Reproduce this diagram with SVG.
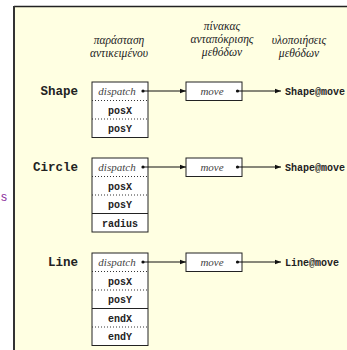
<svg xmlns="http://www.w3.org/2000/svg" width="347" height="350" viewBox="0 0 347 350">
<defs>
<marker id="ah" viewBox="0 0 6 6" refX="6" refY="3" markerWidth="6" markerHeight="6" markerUnits="userSpaceOnUse" orient="auto">
<path d="M0,0.8 L6,3 L0,5.2 Z" fill="#111"/>
</marker>
</defs>
<style>
.head{font-family:"Liberation Serif","DejaVu Serif",serif;font-style:italic;font-size:11.5px;fill:#222;text-anchor:middle}
.lbl{font-family:"Liberation Mono",monospace;font-weight:bold;font-size:12.5px;fill:#222;text-anchor:end}
.fld{font-family:"Liberation Mono",monospace;font-weight:bold;font-size:10px;fill:#222;text-anchor:middle}
.impl{font-family:"Liberation Mono",monospace;font-weight:bold;font-size:10px;fill:#222}
.it{font-family:"Liberation Serif",serif;font-style:italic;font-size:11px;fill:#444;text-anchor:middle}
.box{fill:#fff;stroke:#222;stroke-width:1}
.dot{stroke:#333;stroke-width:1;stroke-dasharray:1,2}
.sol{stroke:#222;stroke-width:1}
.con{stroke:#111;stroke-width:1;fill:none;marker-end:url(#ah)}
.pt{fill:#111}
</style>
<rect x="0" y="0" width="347" height="350" fill="#fff"/>
<rect x="14" y="6.5" width="340" height="350" fill="#FFFFE2"/>
<line x1="14" y1="6.5" x2="347" y2="6.5" stroke="#222" stroke-width="1.5"/>
<line x1="14" y1="6" x2="14" y2="350" stroke="#333" stroke-width="2"/>
<text x="1" y="201" font-family="Liberation Sans,sans-serif" font-size="12" fill="#8a2a9a">s</text>

<g id="headings">
<text class="head" x="119" y="44">παράσταση</text>
<text class="head" x="119" y="57">αντικειμένου</text>
<text class="head" x="222" y="30">πίνακας</text>
<text class="head" x="222" y="43">ανταπόκρισης</text>
<text class="head" x="222" y="56">μεθόδων</text>
<text class="head" x="299" y="44">υλοποιήσεις</text>
<text class="head" x="299" y="57">μεθόδων</text>
</g>

<g id="shape">
<text class="lbl" x="78" y="95">Shape</text>
<rect class="box" x="92" y="82" width="56" height="55.5"/>
<line class="dot" x1="92" y1="100.5" x2="148" y2="100.5"/>
<line class="dot" x1="92" y1="119" x2="148" y2="119"/>
<text class="it" x="117" y="95">dispatch</text>
<text class="fld" x="120" y="114">posX</text>
<text class="fld" x="120" y="132">posY</text>
</g>
<g id="shape-vt">
<rect class="box" x="186" y="82" width="56" height="18.5"/>
<text class="it" x="212" y="95">move</text>
</g>
<g id="shape-impl"><text class="impl" x="285" y="94.5">Shape@move</text></g>

<g id="circle">
<text class="lbl" x="78" y="171">Circle</text>
<rect class="box" x="92" y="158" width="56" height="74"/>
<line class="dot" x1="92" y1="176.5" x2="148" y2="176.5"/>
<line class="dot" x1="92" y1="195" x2="148" y2="195"/>
<line class="sol" x1="92" y1="213.5" x2="148" y2="213.5"/>
<text class="it" x="117" y="171">dispatch</text>
<text class="fld" x="120" y="190">posX</text>
<text class="fld" x="120" y="208">posY</text>
<text class="fld" x="120" y="226.5">radius</text>
</g>
<g id="circle-vt">
<rect class="box" x="186" y="158" width="56" height="18.5"/>
<text class="it" x="212" y="171">move</text>
</g>
<g id="circle-impl"><text class="impl" x="285" y="170.5">Shape@move</text></g>

<g id="line">
<text class="lbl" x="78" y="266">Line</text>
<rect class="box" x="92" y="253" width="56" height="92.5"/>
<line class="dot" x1="92" y1="271.5" x2="148" y2="271.5"/>
<line class="dot" x1="92" y1="290" x2="148" y2="290"/>
<line class="sol" x1="92" y1="308.5" x2="148" y2="308.5"/>
<line class="dot" x1="92" y1="327" x2="148" y2="327"/>
<text class="it" x="117" y="266">dispatch</text>
<text class="fld" x="120" y="285">posX</text>
<text class="fld" x="120" y="303">posY</text>
<text class="fld" x="120" y="321.5">endX</text>
<text class="fld" x="120" y="340">endY</text>
</g>
<g id="line-vt">
<rect class="box" x="186" y="253" width="56" height="18.5"/>
<text class="it" x="212" y="266">move</text>
</g>
<g id="line-impl"><text class="impl" x="285" y="265.5">Line@move</text></g>

<g id="connectors">
<circle class="pt" cx="143" cy="91" r="1.6"/>
<path class="con" d="M143,91 H186"/>
<circle class="pt" cx="237.5" cy="91" r="1.6"/>
<path class="con" d="M237.5,91 H281"/>
<circle class="pt" cx="143" cy="167" r="1.6"/>
<path class="con" d="M143,167 H186"/>
<circle class="pt" cx="237.5" cy="167" r="1.6"/>
<path class="con" d="M237.5,167 H281"/>
<circle class="pt" cx="143" cy="262" r="1.6"/>
<path class="con" d="M143,262 H186"/>
<circle class="pt" cx="237.5" cy="262" r="1.6"/>
<path class="con" d="M237.5,262 H281"/>
</g>
</svg>
